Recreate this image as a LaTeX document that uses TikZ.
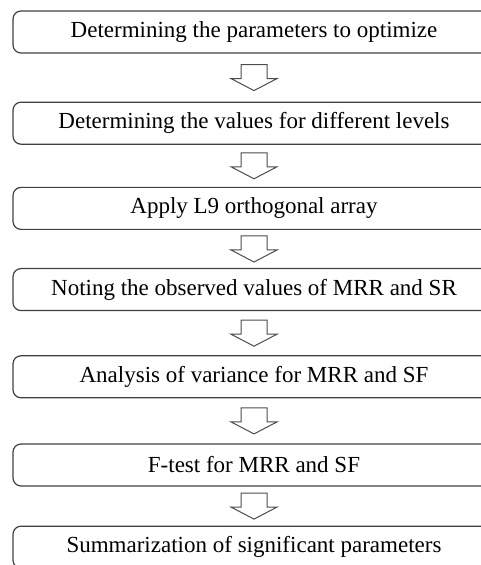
\documentclass[tikz,border=0pt]{standalone}
\usepackage{fontspec}
\setmainfont{Liberation Serif}
\usetikzlibrary{positioning,calc}
\tikzset{
  stepbox/.style={draw=black!75, line width=0.6pt, rounded corners=4pt,
    minimum width=241pt, minimum height=21pt, inner sep=0pt,
    font=\fontsize{11.5}{13}\selectfont},
  hollowarrow/.style={draw=black!70, line width=0.5pt}
}
\begin{document}
\begin{tikzpicture}
\useasboundingbox (0,0) rectangle (240pt,-282.5pt);
\node[stepbox] (s1) at (127pt,-16pt) {Determining the parameters to optimize};
\node[stepbox] (s2) [below=24pt of s1] {Determining the values for different levels};
\node[stepbox] (s3) [below=21pt of s2] {Apply L9 orthogonal array};
\node[stepbox] (s4) [below=19pt of s3] {Noting the observed values of MRR and SR};
\node[stepbox] (s5) [below=22pt of s4] {Analysis of variance for MRR and SF};
\node[stepbox] (s6) [below=22.5pt of s5] {F-test for MRR and SF};
\node[stepbox] (s7) [below=19.5pt of s6] {Summarization of significant parameters};
% hollow block arrows between the steps
\foreach \a/\b in {s1/s2,s2/s3,s3/s4,s4/s5,s5/s6,s6/s7}
  \draw[hollowarrow] ($(\a.south)!0.5!(\b.north)$) ++(-6.5pt,6.5pt) -- ++(13pt,0)
    -- ++(0,-7pt) -- ++(5pt,0) -- ++(-11.5pt,-6pt) -- ++(-11.5pt,6pt) -- ++(5pt,0) -- cycle;
\end{tikzpicture}
\end{document}
